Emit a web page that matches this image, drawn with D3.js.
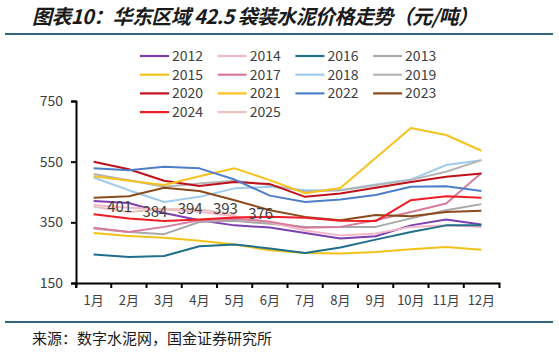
<!DOCTYPE html>
<html>
<head>
<meta charset="utf-8">
<script src="https://cdn.jsdelivr.net/npm/d3@7"></script>
<style>
  body { margin: 0; background: #fff; }
  svg { display: block; }
  text { font-family: "Noto Sans CJK SC", "Noto Sans", sans-serif; }
</style>
</head>
<body>
<svg id="chart" width="559" height="354"></svg>
<script>
// months on the x axis
let months = ["1月","2月","3月","4月","5月","6月","7月","8月","9月","10月","11月","12月"];
let yTicks = [150, 350, 550, 750];

// prices per year (元/吨)
let y2012 = [420, 414, 381, 357, 340, 333, 315, 297, 304, 340, 359, 343];
let y2013 = [330, 318, 311, 351, 355, 345, 335, 335, 335, 363, 390, 410];
let y2014 = [407, 398, 392, 385, 370, 350, 323, 307, 313, 335, 340, 335];
let y2015 = [315, 305, 299, 289, 277, 258, 249, 247, 252, 261, 269, 260];
let y2016 = [244, 236, 239, 271, 277, 264, 249, 267, 293, 318, 340, 340];
let y2017 = [332, 318, 335, 357, 362, 352, 332, 335, 357, 384, 412, 513];
let y2018 = [498, 456, 417, 434, 462, 467, 456, 456, 475, 491, 539, 555];
let y2019 = [509, 489, 467, 478, 487, 473, 452, 456, 472, 490, 517, 555];
let y2020 = [550, 525, 487, 470, 483, 476, 434, 445, 464, 483, 500, 511];
let y2021 = [502, 487, 473, 502, 528, 489, 446, 463, 562, 661, 638, 586];
let y2022 = [528, 522, 533, 528, 491, 438, 417, 425, 440, 467, 469, 453];
let y2023 = [431, 436, 464, 453, 423, 390, 368, 357, 374, 370, 384, 388];
let y2024 = [377, 363, 354, 359, 366, 368, 365, 355, 354, 423, 436, 431];
let y2025 = [401, 384, 394, 393, 376];

// legend order (4 columns), with line colours
let years = ["2012","2014","2016","2013","2015","2017","2018","2019","2020","2021","2022","2023","2024","2025"];
let colors = {
	"2012": "#7b3fb0", "2014": "#f4b8c8", "2016": "#1f6f8b", "2013": "#a8a8a8",
	"2015": "#f2c21a", "2017": "#d87c9c", "2018": "#9fcbee", "2019": "#b4b4b4",
	"2020": "#c0101c", "2021": "#f7c21c", "2022": "#4f7ec8", "2023": "#8a4a1c",
	"2024": "#ee1c24", "2025": "#e8c4bc"
};
let values = {
	"2012": y2012, "2013": y2013, "2014": y2014, "2015": y2015, "2016": y2016,
	"2017": y2017, "2018": y2018, "2019": y2019, "2020": y2020, "2021": y2021,
	"2022": y2022, "2023": y2023, "2024": y2024, "2025": y2025
};
// draw order: older years underneath
let drawOrder = ["2012","2013","2014","2015","2016","2017","2018","2019","2020","2021","2022","2023","2024","2025"];

let svg = d3.select("#chart");

// title and rules
svg.append("text")
	.attr("x", 32).attr("y", 24)
	.attr("font-size", 20).attr("font-weight", "bold").attr("font-style", "italic")
	.attr("fill", "#1a1a1a")
	.attr("textLength", 446).attr("lengthAdjust", "spacing")
	.text("图表10：华东区域 42.5 袋装水泥价格走势（元/吨）");
svg.append("line").attr("x1", 5).attr("x2", 553).attr("y1", 34).attr("y2", 34)
	.attr("stroke", "#2f6485").attr("stroke-width", 2);
svg.append("line").attr("x1", 5).attr("x2", 553).attr("y1", 322).attr("y2", 322)
	.attr("stroke", "#2f6485").attr("stroke-width", 2);
svg.append("text")
	.attr("x", 32).attr("y", 344)
	.attr("font-size", 15).attr("fill", "#1a1a1a")
	.text("来源：数字水泥网，国金证券研究所");

// scales
let xScale = d3.scaleBand().domain(months).range([76, 499]);
let yScale = d3.scaleLinear().domain([150, 750]).range([283, 101]);
let xMid = m => xScale(m) + xScale.bandwidth() / 2;

// legend
let legend = svg.append("g");
years.forEach((yr, i) => {
	let col = i % 4, row = Math.floor(i / 4);
	let lx = 140 + col * 77.7, ly = 56 + row * 18.7;
	legend.append("line")
		.attr("x1", lx).attr("x2", lx + 29).attr("y1", ly).attr("y2", ly)
		.attr("stroke", colors[yr]).attr("stroke-width", 2.2);
	legend.append("text")
		.attr("x", lx + 32).attr("y", ly + 5)
		.attr("font-size", 14).attr("fill", "#404040")
		.text(yr);
});

// lines
let line = d3.line()
	.x((d, i) => xMid(months[i]))
	.y(d => yScale(d));

svg.append("g").selectAll("path")
	.data(drawOrder)
	.join("path")
	.attr("d", yr => line(values[yr]))
	.attr("fill", "none")
	.attr("stroke", yr => colors[yr])
	.attr("stroke-width", 2)
	.attr("stroke-linejoin", "round");

// value labels for 2025
svg.append("g").selectAll("text")
	.data(y2025)
	.join("text")
	.attr("x", (d, i) => xMid(months[i]) + 26)
	.attr("y", d => yScale(d) + 5)
	.attr("text-anchor", "middle")
	.attr("font-size", 15)
	.attr("fill", "#404040")
	.text(d => d);

// axes
let yAxis = svg.append("g")
	.attr("transform", "translate(76,0)")
	.call(d3.axisLeft(yScale).tickValues(yTicks).tickSize(5).tickPadding(8));
let xAxis = svg.append("g")
	.attr("transform", "translate(0,283)")
	.call(d3.axisBottom(xScale).tickSize(5).tickPadding(8).tickSizeOuter(5));

xAxis.selectAll(".tick line").remove();
xAxis.selectAll(".tick")
	.append("line")
	.attr("x1", -xScale.bandwidth() / 2).attr("x2", -xScale.bandwidth() / 2)
	.attr("y1", 0).attr("y2", 5)
	.attr("stroke", "#000").attr("stroke-width", 2);

[xAxis, yAxis].forEach(ax => {
	ax.select(".domain").attr("stroke", "#000").attr("stroke-width", 2);
	ax.selectAll(".tick line").attr("stroke", "#000").attr("stroke-width", 2);
	ax.selectAll("text").attr("fill", "#404040").attr("font-family", "\"Noto Sans CJK SC\", sans-serif");
});
yAxis.selectAll("text").attr("font-size", 14);
xAxis.selectAll("text").attr("font-size", 13);
</script>
</body>
</html>
